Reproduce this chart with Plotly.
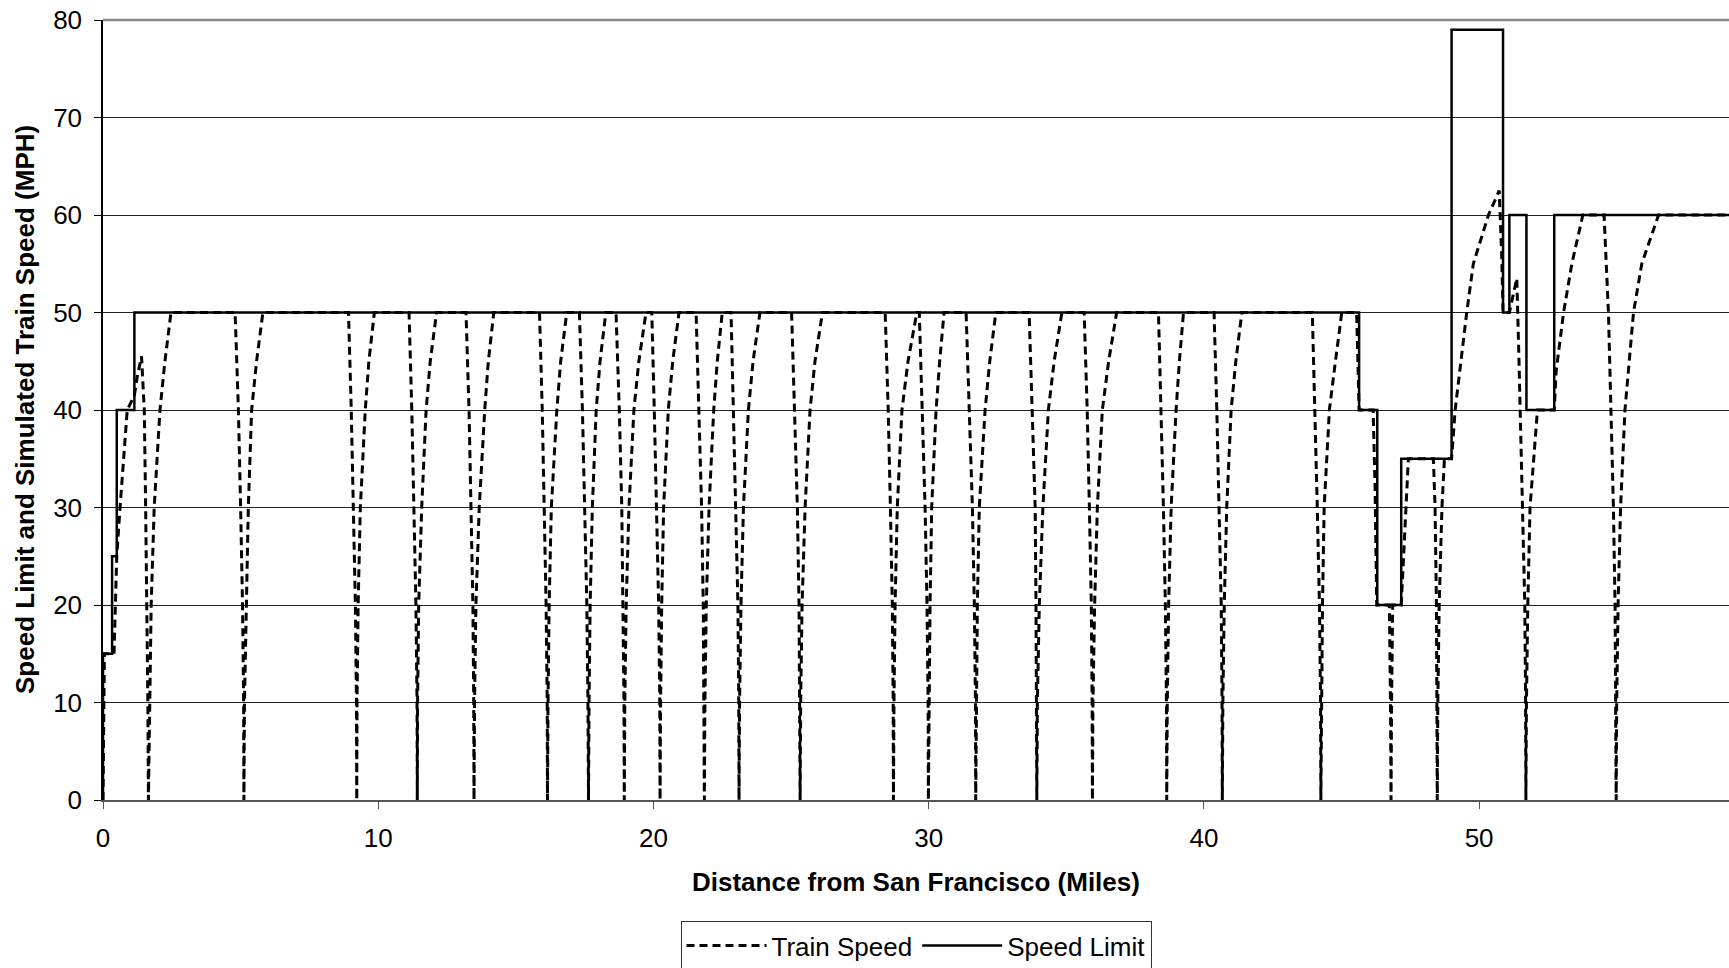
import plotly.graph_objects as go

# ---- Data ----
# Speed limit step profile (value holds from each x until the next x)
limit_x = [0.0, 0.0, 0.33, 0.50, 1.14, 45.64, 46.30, 47.17, 49.00, 50.87, 51.10, 51.72, 52.73, 59.08]
limit_y = [0, 15, 25, 40, 50, 40, 20, 35, 79, 50, 60, 40, 60, 60]

# Simulated train speed (distance in miles, speed in mph)
train_x = [
    0.00, 0.03, 0.05, 0.40, 0.44, 0.50, 0.62, 0.74, 0.88, 1.14, 1.25, 1.40, 1.50, 1.55, 1.60, 1.63, 1.65,
    1.71, 1.75, 1.86, 2.07, 2.25, 2.47,
    4.80, 4.92, 5.00, 5.07, 5.11, 5.12, 5.14, 5.20, 5.28, 5.40, 5.58, 5.81,
    8.92, 9.02, 9.10, 9.17, 9.21, 9.22, 9.23, 9.27, 9.35, 9.53, 9.66, 9.86,
    11.12, 11.22, 11.30, 11.37, 11.41, 11.42, 11.43, 11.47, 11.58, 11.74, 11.89, 12.12,
    13.19, 13.30, 13.37, 13.44, 13.47, 13.48, 13.50, 13.55, 13.67, 13.87, 14.00, 14.20,
    15.86, 15.96, 16.03, 16.10, 16.14, 16.15, 16.17, 16.21, 16.29, 16.49, 16.63, 16.85,
    17.31, 17.42, 17.50, 17.58, 17.62, 17.64, 17.66, 17.70, 17.78, 17.92, 18.06, 18.27,
    18.64, 18.76, 18.85, 18.90, 18.93, 18.94, 18.96, 19.01, 19.11, 19.29, 19.47, 19.73,
    19.94, 20.03, 20.12, 20.19, 20.23, 20.24, 20.26, 20.30, 20.37, 20.54, 20.70, 20.93,
    21.55, 21.66, 21.75, 21.81, 21.84, 21.85, 21.87, 21.92, 22.02, 22.19, 22.32, 22.50,
    22.82, 22.91, 23.00, 23.07, 23.10, 23.11, 23.13, 23.18, 23.27, 23.45, 23.62, 23.87,
    25.02, 25.12, 25.23, 25.29, 25.32, 25.33, 25.35, 25.40, 25.51, 25.69, 25.87, 26.14,
    28.42, 28.53, 28.61, 28.68, 28.71, 28.72, 28.74, 28.78, 28.86, 29.03, 29.25, 29.57,
    29.66, 29.77, 29.87, 29.94, 29.98, 29.99, 30.01, 30.05, 30.11, 30.27, 30.40, 30.56,
    31.36, 31.47, 31.59, 31.66, 31.70, 31.71, 31.73, 31.77, 31.84, 32.05, 32.22, 32.44,
    33.65, 33.77, 33.87, 33.90, 33.92, 33.93, 33.95, 34.02, 34.15, 34.35, 34.56, 34.84,
    35.65, 35.76, 35.84, 35.91, 35.94, 35.95, 35.97, 36.03, 36.13, 36.31, 36.54, 36.83,
    38.35, 38.45, 38.53, 38.60, 38.64, 38.65, 38.67, 38.72, 38.81, 38.99, 39.11, 39.26,
    40.37, 40.47, 40.56, 40.63, 40.66, 40.67, 40.69, 40.74, 40.83, 40.99, 41.16, 41.38,
    43.94, 44.04, 44.12, 44.20, 44.24, 44.25, 44.27, 44.31, 44.37, 44.56, 44.78, 45.01,
    45.55, 45.62, 45.64, 46.15, 46.22, 46.28, 46.74, 46.78, 46.80,
    46.82, 46.86, 47.17, 47.30, 47.35, 47.43, 48.34, 48.40, 48.45, 48.47, 48.48,
    48.50, 48.55, 48.65, 48.74, 49.00, 49.13, 49.55, 49.79, 50.34, 50.73, 50.82, 50.87,
    51.10, 51.25, 51.37, 51.45, 51.49, 51.59, 51.66, 51.69, 51.70,
    51.72, 51.77, 51.85, 52.12, 52.73, 52.80, 53.07, 53.37, 53.77,
    54.54, 54.70, 54.80, 54.88, 54.94, 54.97, 54.98,
    55.00, 55.05, 55.14, 55.30, 55.61, 55.91, 56.52, 59.08,
]
train_y = [
    0, 10, 15, 15, 20, 25, 30, 35, 40, 41.5, 43.5, 45.5, 40, 30, 20, 10, 0,
    10, 20, 30, 40, 45, 50,
    50, 40, 30, 20, 10, 0, 10, 20, 30, 40, 45, 50,
    50, 40, 30, 20, 10, 0, 10, 20, 30, 40, 45, 50,
    50, 40, 30, 20, 10, 0, 10, 20, 30, 40, 45, 50,
    50, 40, 30, 20, 10, 0, 10, 20, 30, 40, 45, 50,
    50, 40, 30, 20, 10, 0, 10, 20, 30, 40, 45, 50,
    50, 40, 30, 20, 10, 0, 10, 20, 30, 40, 45, 50,
    50, 40, 30, 20, 10, 0, 10, 20, 30, 40, 45, 50,
    50, 40, 30, 20, 10, 0, 10, 20, 30, 40, 45, 50,
    50, 40, 30, 20, 10, 0, 10, 20, 30, 40, 45, 50,
    50, 40, 30, 20, 10, 0, 10, 20, 30, 40, 45, 50,
    50, 40, 30, 20, 10, 0, 10, 20, 30, 40, 45, 50,
    50, 40, 30, 20, 10, 0, 10, 20, 30, 40, 45, 50,
    50, 40, 30, 20, 10, 0, 10, 20, 30, 40, 45, 50,
    50, 40, 30, 20, 10, 0, 10, 20, 30, 40, 45, 50,
    50, 40, 30, 20, 10, 0, 10, 20, 30, 40, 45, 50,
    50, 40, 30, 20, 10, 0, 10, 20, 30, 40, 45, 50,
    50, 40, 30, 20, 10, 0, 10, 20, 30, 40, 45, 50,
    50, 40, 30, 20, 10, 0, 10, 20, 30, 40, 45, 50,
    50, 40, 30, 20, 10, 0, 10, 20, 30, 40, 45, 50,
    50, 42, 40, 40, 32, 20, 20, 10, 0,
    10, 20, 20, 28, 30, 35, 35, 30, 20, 10, 0,
    10, 20, 30, 35, 35, 40, 50, 55, 60, 62.5, 56, 50,
    50, 52, 53.5, 45, 40, 30, 20, 10, 0,
    10, 20, 30, 40, 40, 44, 50, 55, 60,
    60, 50, 40, 30, 20, 10, 0,
    10, 20, 30, 40, 50, 55, 60, 60,
]

x_ticks = [0, 10, 20, 30, 40, 50]
y_ticks = [0, 10, 20, 30, 40, 50, 60, 70, 80]

FONT = "Arial, Liberation Sans, sans-serif"
FS = 26

fig = go.Figure()
fig.add_trace(go.Scatter(
    x=train_x, y=train_y, mode="lines", name="Train Speed",
    line=dict(color="black", width=3, dash="8px,5px"),
))
fig.add_trace(go.Scatter(
    x=limit_x, y=limit_y, mode="lines", name="Speed Limit",
    line=dict(color="black", width=2.5, shape="hv"),
))

W, H = 1729, 968
L, R, T, B = 103, 0, 20, 168
plot_w = W - L - R
plot_h = H - T - B

def px_x(px):
    return (px - L) / plot_w

def px_y(py):
    return (H - B - py) / plot_h

fig.update_layout(
    width=W, height=H,
    margin=dict(l=L, r=R, t=T, b=B, pad=0, autoexpand=False),
    paper_bgcolor="white", plot_bgcolor="white",
    font=dict(family=FONT, size=FS, color="black"),
    showlegend=True,
    legend=dict(
        orientation="h", x=0.5, xanchor="center", y=px_y(921), yanchor="top",
        bordercolor="#333333", borderwidth=1, bgcolor="white",
        font=dict(family=FONT, size=FS, color="black"),
        itemwidth=80, tracegroupgap=0,
    ),
    xaxis=dict(
        range=[0, 59.08], tickvals=x_ticks, ticktext=[str(v) for v in x_ticks],
        showgrid=False, zeroline=False, automargin=False,
        showline=True, linecolor="#555555", linewidth=2,
        ticks="outside", ticklen=7, tickcolor="#555555", tickwidth=1,
        tickfont=dict(family=FONT, size=FS, color="black"),
        ticklabelstandoff=7,
    ),
    yaxis=dict(
        range=[0, 80], tickvals=y_ticks, ticktext=[str(v) for v in y_ticks],
        showgrid=True, gridcolor="#222222", gridwidth=1, zeroline=False, automargin=False,
        showline=True, linecolor="black", linewidth=1.5,
        ticks="outside", ticklen=7, tickcolor="black", tickwidth=1,
        tickfont=dict(family=FONT, size=FS, color="black"),
        ticklabelstandoff=7,
    ),
    shapes=[dict(type="line", xref="paper", yref="paper", x0=0, x1=1, y0=1, y1=1,
                 line=dict(color="#888888", width=2.5))],
    annotations=[
        dict(text="<b>Distance from San Francisco (Miles)</b>", xref="paper", yref="paper",
             x=0.5, y=px_y(882), xanchor="center", yanchor="middle", showarrow=False,
             font=dict(family=FONT, size=FS, color="black")),
        dict(text="<b>Speed Limit and Simulated Train Speed (MPH)</b>", xref="paper", yref="paper",
             x=px_x(25), y=0.5, xanchor="center", yanchor="middle", textangle=-90, showarrow=False,
             font=dict(family=FONT, size=FS, color="black")),
    ],
)

fig.write_html("out.html")
